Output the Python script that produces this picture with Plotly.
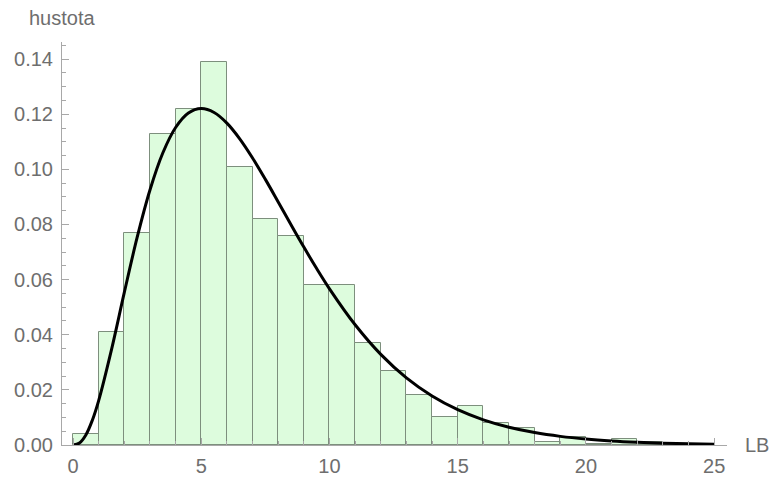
import plotly.graph_objects as go

# Histogram: bin left edges (width 1) and densities
bin_edges = list(range(0, 26))
bar_heights = [0.004, 0.041, 0.077, 0.113, 0.122, 0.139, 0.101, 0.082, 0.076, 0.058,
               0.058, 0.037, 0.027, 0.018, 0.010, 0.014, 0.008, 0.006, 0.001, 0.003,
               0.0005, 0.002, 0.001, 0.0005, 0.0005]

# Fitted density curve
curve_x = [0, 0.25, 0.5, 0.75, 1, 1.5, 2, 2.5, 3, 3.5, 4, 4.5, 5, 5.5, 6, 6.5, 7, 7.5,
           8, 8.5, 9, 9.5, 10, 11, 12, 13, 14, 15, 16, 17, 18, 19, 20, 21, 22, 23, 24, 25]
curve_y = [0, 0.00073, 0.00366, 0.00891, 0.01613, 0.03462, 0.05535, 0.07530, 0.09251,
           0.10592, 0.11518, 0.12043, 0.12204, 0.12062, 0.11677, 0.11108, 0.10412,
           0.09636, 0.08818, 0.07991, 0.07180, 0.06401, 0.05667, 0.04362, 0.03289,
           0.02436, 0.01779, 0.01282, 0.00914, 0.00645, 0.00451, 0.00313, 0.00216,
           0.00148, 0.00101, 0.00068, 0.00046, 0.00031]

x_ticks = [0, 5, 10, 15, 20, 25]
y_ticks = [0.00, 0.02, 0.04, 0.06, 0.08, 0.10, 0.12, 0.14]

centers = [(bin_edges[i] + bin_edges[i + 1]) / 2 for i in range(len(bar_heights))]
widths = [bin_edges[i + 1] - bin_edges[i] for i in range(len(bar_heights))]

FONT = "Liberation Sans, Arial, sans-serif"
TXT = "#6e6e6e"
AX = "#a8a8a8"
FS = 20

fig = go.Figure()
fig.add_trace(go.Bar(x=centers, y=bar_heights, width=widths,
                     marker=dict(color="#ddfcdd", line=dict(color="#7d8f7d", width=1)),
                     hoverinfo="skip"))
fig.add_trace(go.Scatter(x=curve_x, y=curve_y, mode="lines",
                         line=dict(color="black", width=3, shape="spline"),
                         hoverinfo="skip"))

fig.update_layout(
    width=771, height=477,
    margin=dict(l=62, r=44, t=42, b=32, autoexpand=False),
    plot_bgcolor="white", paper_bgcolor="white",
    showlegend=False, bargap=0,
    font=dict(family=FONT, size=FS, color=TXT),
    xaxis=dict(range=[-0.43, 25.5], tickvals=x_ticks, ticks="inside", ticklen=7,
               tickcolor=AX, showline=True, linecolor=AX, linewidth=1,
               showgrid=False, zeroline=False, automargin=False,
               tickfont=dict(size=FS), ticklabelstandoff=3,
               minor=dict(ticks="inside", dtick=1, ticklen=4, tickcolor=AX, showgrid=False)),
    yaxis=dict(range=[0, 0.1462], tickvals=y_ticks, tickformat=".2f", ticks="inside",
               ticklen=7, tickcolor=AX, showline=True, linecolor=AX, linewidth=1,
               showgrid=False, zeroline=False, automargin=False,
               tickfont=dict(size=FS), ticklabelstandoff=4,
               minor=dict(ticks="inside", dtick=0.005, ticklen=4, tickcolor=AX, showgrid=False)),
    annotations=[
        dict(text="hustota", xref="paper", yref="paper", x=-0.053, y=1.0, yshift=24,
             xanchor="left", yanchor="middle", showarrow=False,
             font=dict(family=FONT, size=FS, color=TXT)),
        dict(text="LB", xref="paper", yref="paper", x=1.0, y=0.0, xshift=16,
             xanchor="left", yanchor="middle", showarrow=False,
             font=dict(family=FONT, size=FS, color=TXT)),
    ],
)

fig.write_html("out.html")
